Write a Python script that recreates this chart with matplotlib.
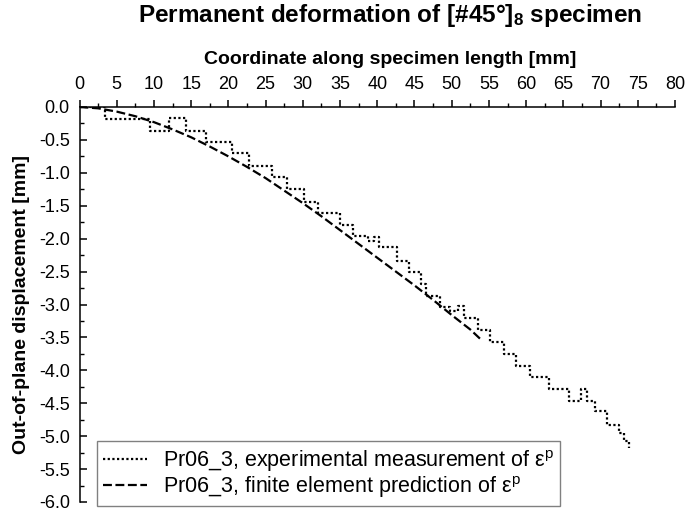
import matplotlib
matplotlib.use("Agg")
import matplotlib.pyplot as plt
from matplotlib.ticker import MultipleLocator, FormatStrFormatter

plt.rcParams['font.family'] = ['Liberation Sans', 'DejaVu Sans']
plt.rcParams['mathtext.fontset'] = 'custom'
plt.rcParams['mathtext.rm'] = 'Liberation Sans'
plt.rcParams['mathtext.it'] = 'Liberation Sans:italic'
plt.rcParams['mathtext.bf'] = 'Liberation Sans:bold'
plt.rcParams['axes.unicode_minus'] = False

# Experimental measurement (step levels): x where each level starts, level value
exp_x = [0.0, 3.4, 9.5, 12.0, 14.3, 17.0, 20.5, 22.8, 25.9, 27.9, 30.1, 32.0,
         35.0, 36.7, 38.8, 39.5, 40.3, 42.7, 44.3, 45.9, 46.6, 48.4, 49.8,
         50.8, 51.7, 53.6, 55.2, 57.0, 58.7, 60.5, 63.1, 65.8, 67.4, 68.2,
         69.3, 70.9, 72.5, 73.2, 73.8]
exp_y = [0.0, -0.18, -0.36, -0.17, -0.36, -0.53, -0.70, -0.89, -1.07, -1.25,
         -1.44, -1.61, -1.79, -1.96, -2.04, -1.97, -2.13, -2.34, -2.51, -2.69,
         -2.87, -3.04, -3.10, -3.02, -3.21, -3.39, -3.57, -3.75, -3.94, -4.10,
         -4.29, -4.46, -4.29, -4.46, -4.62, -4.83, -4.95, -5.08, -5.18]

# Finite element prediction
fe_x = [0, 2.5, 5, 7.5, 10, 12.5, 15, 17.5, 20, 22.5, 25, 27.5, 30, 32.5, 35,
        37.5, 40, 42.5, 45, 47.5, 50, 52.5, 54]
fe_y = [0, -0.02, -0.07, -0.14, -0.23, -0.34, -0.46, -0.60, -0.75, -0.91,
        -1.08, -1.27, -1.46, -1.66, -1.87, -2.08, -2.29, -2.50, -2.71, -2.93,
        -3.16, -3.38, -3.54]

W, H = 685, 516
fig = plt.figure(figsize=(W / 100, H / 100), dpi=100)
L, R, T, B = 79.5, 675, 107, 502
ax = fig.add_axes([L / W, 1 - B / H, (R - L) / W, (B - T) / H])

ax.step(exp_x, exp_y, where='post', color='black', lw=1.6,
        linestyle=(0, (1, 1.1)),
        label='Pr06_3, experimental measurement of ε$^{\\mathrm{p}}$')
ax.plot(fe_x, fe_y, color='black', lw=1.6, linestyle=(0, (4, 1.6)),
        label='Pr06_3, finite element prediction of ε$^{\\mathrm{p}}$')

ax.set_xlim(0, 80)
ax.set_ylim(-6, 0)
ax.xaxis.tick_top()
ax.spines['right'].set_visible(False)
ax.spines['bottom'].set_visible(False)
for s in ('left', 'top'):
    ax.spines[s].set_linewidth(1.1)

ax.xaxis.set_major_locator(MultipleLocator(5))
ax.xaxis.set_minor_locator(MultipleLocator(2.5))
ax.yaxis.set_major_locator(MultipleLocator(0.5))
ax.yaxis.set_minor_locator(MultipleLocator(0.25))
ax.yaxis.set_major_formatter(FormatStrFormatter('%.1f'))

ax.tick_params(axis='x', which='major', direction='out', length=5, width=1.1,
               labelsize=13, pad=5)
ax.tick_params(axis='x', which='minor', direction='out', length=3, width=1.0)
ax.tick_params(axis='y', which='major', direction='in', length=5, width=1.1,
               labelsize=13, pad=7)
ax.tick_params(axis='y', which='minor', direction='in', length=3, width=1.0)

fig.text(390 / W, 1 - 21.7 / H,
         'Permanent deformation of [#45°]$_\\mathbf{8}$ specimen',
         ha='center', va='baseline', fontsize=17.5, fontweight='bold')
fig.text(390 / W, 1 - 64 / H, 'Coordinate along specimen length [mm]',
         ha='center', va='baseline', fontsize=14, fontweight='bold')
fig.text(22 / W, 1 - ((T + B) / 2) / H, 'Out-of-plane displacement [mm]',
         ha='center', va='center', rotation=90, fontsize=14, fontweight='bold')

leg = ax.legend(loc='lower left', bbox_to_anchor=(97 / W, 1 - 506 / H),
                bbox_transform=fig.transFigure, borderaxespad=0,
                fontsize=15.5, handlelength=2.0, handletextpad=0.75,
                labelspacing=0.0, borderpad=0.3, fancybox=False,
                framealpha=1, edgecolor='#808080')
leg.get_frame().set_linewidth(1.0)

fig.savefig('out.png', dpi=100)
